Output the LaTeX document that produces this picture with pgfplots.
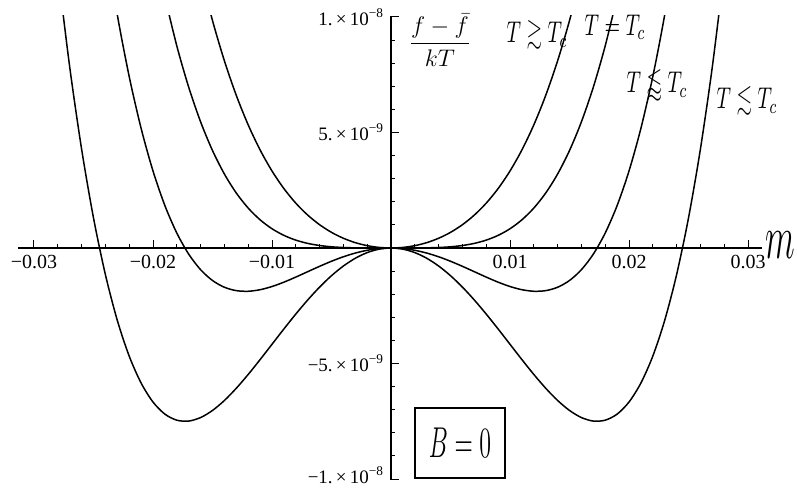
\documentclass[border=0pt]{standalone}
\usepackage{pgfplots}
\usepackage{pgfplotstable}
\pgfplotsset{compat=1.18}
\usepackage{amsmath}
\usepackage{amssymb}
\usepackage{fontspec}
\setmainfont{Liberation Serif}

% Landau free energy (f - fbar)/kT versus magnetisation m, in units of 1e-9
\pgfplotstableread{
m f
-0.016 11.8613
-0.015 9.8438
-0.014 8.1013
-0.013 6.6051
-0.012 5.3280
-0.011 4.2451
-0.010 3.3333
-0.009 2.5718
-0.008 1.9413
-0.007 1.4251
-0.006 1.0080
-0.005 0.6771
-0.004 0.4213
-0.003 0.2318
-0.002 0.1013
-0.001 0.0251
0.000 0.0000
0.001 0.0251
0.002 0.1013
0.003 0.2318
0.004 0.4213
0.005 0.6771
0.006 1.0080
0.007 1.4251
0.008 1.9413
0.009 2.5718
0.010 3.3333
0.011 4.2451
0.012 5.3280
0.013 6.6051
0.014 8.1013
0.015 9.8438
0.016 11.8613
}\curveAbove
\pgfplotstableread{
m f
-0.019 10.8601
-0.018 8.7480
-0.017 6.9601
-0.016 5.4613
-0.015 4.2188
-0.014 3.2013
-0.013 2.3801
-0.012 1.7280
-0.011 1.2201
-0.010 0.8333
-0.009 0.5468
-0.008 0.3413
-0.007 0.2001
-0.006 0.1080
-0.005 0.0521
-0.004 0.0213
-0.003 0.0068
-0.002 0.0013
-0.001 0.0001
0.000 0.0000
0.001 0.0001
0.002 0.0013
0.003 0.0068
0.004 0.0213
0.005 0.0521
0.006 0.1080
0.007 0.2001
0.008 0.3413
0.009 0.5468
0.010 0.8333
0.011 1.2201
0.012 1.7280
0.013 2.3801
0.014 3.2013
0.015 4.2188
0.016 5.4613
0.017 6.9601
0.018 8.7480
0.019 10.8601
}\curveCrit
\pgfplotstableread{
m f
-0.024 13.2480
-0.023 10.0951
-0.022 7.4213
-0.021 5.1818
-0.020 3.3333
-0.019 1.8351
-0.018 0.6480
-0.017 -0.2649
-0.016 -0.9387
-0.015 -1.4063
-0.014 -1.6987
-0.013 -1.8449
-0.012 -1.8720
-0.011 -1.8049
-0.010 -1.6667
-0.009 -1.4783
-0.008 -1.2587
-0.007 -1.0249
-0.006 -0.7920
-0.005 -0.5729
-0.004 -0.3787
-0.003 -0.2183
-0.002 -0.0987
-0.001 -0.0249
0.000 0.0000
0.001 -0.0249
0.002 -0.0987
0.003 -0.2183
0.004 -0.3787
0.005 -0.5729
0.006 -0.7920
0.007 -1.0249
0.008 -1.2587
0.009 -1.4783
0.010 -1.6667
0.011 -1.8049
0.012 -1.8720
0.013 -1.8449
0.014 -1.6987
0.015 -1.4063
0.016 -0.9387
0.017 -0.2649
0.018 0.6480
0.019 1.8351
0.020 3.3333
0.021 5.1818
0.022 7.4213
0.023 10.0951
0.024 13.2480
}\curveBelowA
\pgfplotstableread{
m f
-0.028 12.0213
-0.027 7.8368
-0.026 4.2813
-0.025 1.3021
-0.024 -1.1520
-0.023 -3.1299
-0.022 -4.6787
-0.021 -5.8433
-0.020 -6.6667
-0.019 -7.1899
-0.018 -7.4520
-0.017 -7.4899
-0.016 -7.3387
-0.015 -7.0313
-0.014 -6.5987
-0.013 -6.0699
-0.012 -5.4720
-0.011 -4.8299
-0.010 -4.1667
-0.009 -3.5033
-0.008 -2.8587
-0.007 -2.2499
-0.006 -1.6920
-0.005 -1.1979
-0.004 -0.7787
-0.003 -0.4433
-0.002 -0.1987
-0.001 -0.0499
0.000 0.0000
0.001 -0.0499
0.002 -0.1987
0.003 -0.4433
0.004 -0.7787
0.005 -1.1979
0.006 -1.6920
0.007 -2.2499
0.008 -2.8587
0.009 -3.5033
0.010 -4.1667
0.011 -4.8299
0.012 -5.4720
0.013 -6.0699
0.014 -6.5987
0.015 -7.0313
0.016 -7.3387
0.017 -7.4899
0.018 -7.4520
0.019 -7.1899
0.020 -6.6667
0.021 -5.8433
0.022 -4.6787
0.023 -3.1299
0.024 -1.1520
0.025 1.3021
0.026 4.2813
0.027 7.8368
0.028 12.0213
}\curveBelowB

\begin{document}
\begin{tikzpicture}
\useasboundingbox (0pt,0pt) rectangle (398.5pt,-244pt);
\begin{axis}[
  scale only axis,
  width=372pt, height=232.2pt,
  anchor=origin, at={(195.5pt,-124pt)},
  axis lines=middle,
  axis line style={-, line width=0.6pt, black},
  xmin=-0.031345, xmax=0.031176,
  ymin=-10.05, ymax=10.05,
  xtick={-0.03,-0.02,-0.01,0.01,0.02,0.03},
  xticklabels={−0.03,−0.02,−0.01,0.01,0.02,0.03},
  minor xtick={-0.028,-0.026,-0.024,-0.022,-0.018,-0.016,-0.014,-0.012,-0.008,-0.006,-0.004,-0.002,0.002,0.004,0.006,0.008,0.012,0.014,0.016,0.018,0.022,0.024,0.026,0.028},
  ytick={-10,-5,5,10},
  yticklabels={\raisebox{4pt}{−1.\,×\,10\textsuperscript{−8}},−5.\,×\,10\textsuperscript{−9},5.\,×\,10\textsuperscript{−9},1.\,×\,10\textsuperscript{−8}},
  minor ytick={-9,-8,-7,-6,-4,-3,-2,-1,1,2,3,4,6,7,8,9},
  tick align=inside,
  major tick length=3.8pt,
  minor tick length=2pt,
  every tick/.style={black, line width=0.5pt},
  xticklabel style={font=\fontsize{10}{11}\selectfont},
  yticklabel style={font=\fontsize{9.5}{11}\selectfont},
  scaled ticks=false,
  clip=true,
]
\addplot[black, line width=0.75pt, smooth] table[x=m, y=f] {\curveAbove};
\addplot[black, line width=0.75pt, smooth] table[x=m, y=f] {\curveCrit};
\addplot[black, line width=0.75pt, smooth] table[x=m, y=f] {\curveBelowA};
\addplot[black, line width=0.75pt, smooth] table[x=m, y=f] {\curveBelowB};
\end{axis}

% annotations
\node[inner sep=1pt] at (220pt,-20pt) {\fontsize{13}{15}\selectfont$\dfrac{f-\bar{f}}{kT}$};
\node[inner sep=1pt] at (268.5pt,-17.5pt) {\fontsize{10}{12}\selectfont\scalebox{1}[1.5]{$T\gtrsim T_c$}};
\node[inner sep=1pt] at (307.5pt,-13.5pt) {\fontsize{10}{12}\selectfont\scalebox{1}[1.5]{$T= T_c$}};
\node[inner sep=1pt] at (328.5pt,-42.5pt) {\fontsize{10}{12}\selectfont\scalebox{1}[1.5]{$T\lessapprox T_c$}};
\node[inner sep=1pt] at (373.5pt,-50.5pt) {\fontsize{10}{12}\selectfont\scalebox{1}[1.5]{$T\lesssim T_c$}};
\node at (390pt,-122.5pt) {\fontsize{16}{18}\selectfont\scalebox{1}[1.8]{$m$}};
\draw[line width=1.1pt] (207.5pt,-204pt) rectangle (252.5pt,-239pt);
\node at (230pt,-221.5pt) {\fontsize{13}{15}\selectfont\scalebox{1}[1.8]{$B=0$}};
\end{tikzpicture}
\end{document}
